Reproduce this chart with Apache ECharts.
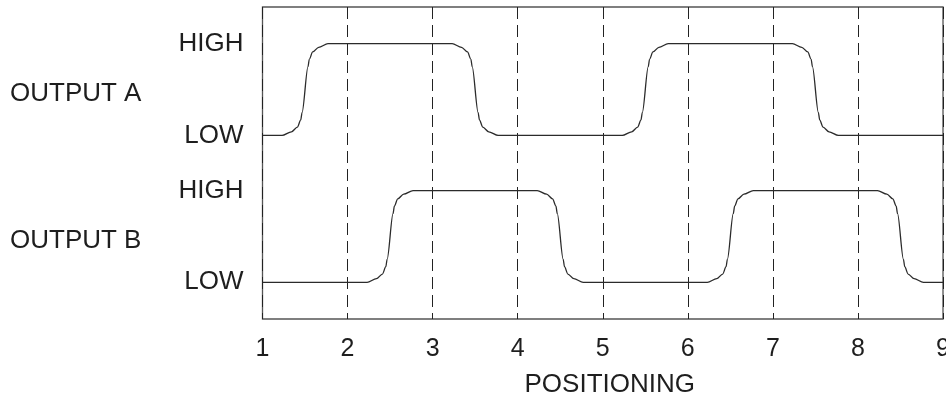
<!DOCTYPE html>
<html>
<head>
<meta charset="utf-8">
<style>
  html, body { margin: 0; padding: 0; background: #fff; }
  #chart { width: 946px; height: 399px; }
</style>
<script src="https://cdn.jsdelivr.net/npm/echarts@6/dist/echarts.min.js"></script>
</head>
<body>
<div id="chart"></div>
<script>
// positions on the x axis
var positionTicks = [1, 2, 3, 4, 5, 6, 7, 8, 9];

// signal levels (y value) and their labels
var levelValues = [0.4, 1.4, 2.0, 3.0];
var levelLabels = ["LOW", "HIGH", "LOW", "HIGH"];
var outputValues = [0.85, 2.45];
var outputLabels = ["OUTPUT B", "OUTPUT A"];

// OUTPUT A trace [position, level]
var outputA = [
  [1.0, 2.0],
  [1.23, 2.0], [1.34, 2.04], [1.41, 2.09], [1.45, 2.17], [1.465, 2.25],
  [1.535, 2.75], [1.55, 2.83], [1.59, 2.91], [1.66, 2.96], [1.77, 3.0],
  [3.23, 3.0], [3.34, 2.96], [3.41, 2.91], [3.45, 2.83], [3.465, 2.75],
  [3.535, 2.25], [3.55, 2.17], [3.59, 2.09], [3.66, 2.04], [3.77, 2.0],
  [5.23, 2.0], [5.34, 2.04], [5.41, 2.09], [5.45, 2.17], [5.465, 2.25],
  [5.535, 2.75], [5.55, 2.83], [5.59, 2.91], [5.66, 2.96], [5.77, 3.0],
  [7.23, 3.0], [7.34, 2.96], [7.41, 2.91], [7.45, 2.83], [7.465, 2.75],
  [7.535, 2.25], [7.55, 2.17], [7.59, 2.09], [7.66, 2.04], [7.77, 2.0],
  [9.0, 2.0]
];

// OUTPUT B trace
var outputB = [
  [1.0, 0.4],
  [2.23, 0.4], [2.34, 0.44], [2.41, 0.49], [2.45, 0.57], [2.465, 0.65],
  [2.535, 1.15], [2.55, 1.23], [2.59, 1.31], [2.66, 1.36], [2.77, 1.4],
  [4.23, 1.4], [4.34, 1.36], [4.41, 1.31], [4.45, 1.23], [4.465, 1.15],
  [4.535, 0.65], [4.55, 0.57], [4.59, 0.49], [4.66, 0.44], [4.77, 0.4],
  [6.23, 0.4], [6.34, 0.44], [6.41, 0.49], [6.45, 0.57], [6.465, 0.65],
  [6.535, 1.15], [6.55, 1.23], [6.59, 1.31], [6.66, 1.36], [6.77, 1.4],
  [8.23, 1.4], [8.34, 1.36], [8.41, 1.31], [8.45, 1.23], [8.465, 1.15],
  [8.535, 0.65], [8.55, 0.57], [8.59, 0.49], [8.66, 0.44], [8.77, 0.4],
  [9.0, 0.4]
];

var FONT = "'Liberation Sans', Arial, sans-serif";
var TEXT = "#1e1e1e";

var chart = echarts.init(document.getElementById("chart"), null, { renderer: "canvas" });

var traceStyle = { color: "#2b2b2b", width: 1.3 };

chart.setOption({
  animation: false,
  grid: {
    left: 262.5, right: 3, top: 7, bottom: 80,
    outerBoundsMode: "none",
    containLabel: false,
    show: true, borderColor: "#555", borderWidth: 1.3, backgroundColor: "transparent"
  },
  xAxis: {
    type: "value",
    min: 1, max: 9, interval: 1,
    name: "POSITIONING",
    nameLocation: "middle",
    nameGap: 53,
    nameTextStyle: { fontFamily: FONT, fontSize: 26, color: TEXT, padding: [0, 0, 0, 14] },
    axisLine: { show: false },
    axisTick: { show: false },
    axisLabel: {
      margin: 18,
      fontFamily: FONT, fontSize: 25, color: TEXT,
      showMinLabel: true, showMaxLabel: true, hideOverlap: false,
      formatter: function (v) { return positionTicks.indexOf(v) >= 0 ? String(v) : ""; }
    },
    splitLine: { show: true, lineStyle: { color: "#222", width: 1, type: [12, 6] } }
  },
  yAxis: [
    {
      type: "value",
      min: 0, max: 3.4,
      axisLine: { show: false },
      axisTick: { show: false },
      splitLine: { show: false },
      axisLabel: {
        customValues: levelValues,
        margin: 19,
        fontFamily: FONT, fontSize: 26, color: TEXT,
        formatter: function (v) {
          var i = levelValues.indexOf(v);
          return i >= 0 ? levelLabels[i] : "";
        }
      }
    },
    {
      type: "value",
      position: "left",
      min: 0, max: 3.4,
      axisLine: { show: false },
      axisTick: { show: false },
      splitLine: { show: false },
      axisLabel: {
        customValues: outputValues,
        margin: 252.5,
        align: "left",
        fontFamily: FONT, fontSize: 26, color: TEXT,
        formatter: function (v) {
          var i = outputValues.indexOf(v);
          return i >= 0 ? outputLabels[i] : "";
        }
      }
    }
  ],
  series: [
    {
      name: "OUTPUT A", type: "line", data: outputA,
      showSymbol: false, smooth: 0.3, smoothMonotone: "x",
      lineStyle: traceStyle
    },
    {
      name: "OUTPUT B", type: "line", data: outputB,
      showSymbol: false, smooth: 0.3, smoothMonotone: "x",
      lineStyle: traceStyle
    }
  ]
});
</script>
</body>
</html>
